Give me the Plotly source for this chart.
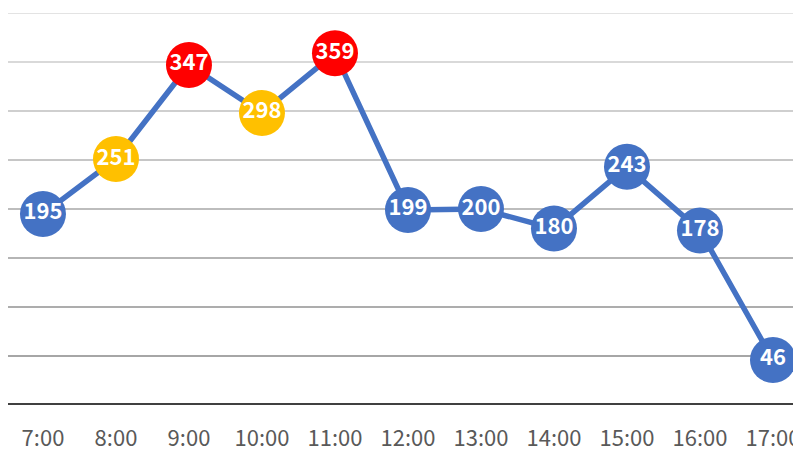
import plotly.graph_objects as go

times = ["7:00", "8:00", "9:00", "10:00", "11:00", "12:00", "13:00", "14:00", "15:00", "16:00", "17:00"]
values = [195, 251, 347, 298, 359, 199, 200, 180, 243, 178, 46]
grid_values = [50, 100, 150, 200, 250, 300, 350, 400]
grid_colors = ["#a6a6a6", "#adadad", "#b5b5b5", "#bdbdbd", "#c6c6c6", "#cfcfcf", "#d9d9d9", "#e3e3e3"]

def color_for(v):
    if v >= 300:
        return "#FF0000"
    if v >= 250:
        return "#FFC000"
    return "#4472C4"

marker_colors = [color_for(v) for v in values]
xi = list(range(len(times)))

fig = go.Figure()
fig.add_trace(go.Scatter(
    x=xi, y=values, mode="lines+markers+text",
    line=dict(color="#4472C4", width=5.5),
    marker=dict(size=46, color=marker_colors, line=dict(width=0)),
    text=[str(v) for v in values], textposition="middle center",
    textfont=dict(family="Noto Sans CJK JP", size=22, color="white", weight="bold"),
    cliponaxis=False, hoverinfo="skip",
))

shapes = []
for gv, gc in zip(grid_values, grid_colors):
    shapes.append(dict(type="line", xref="paper", yref="y", x0=0, x1=1, y0=gv, y1=gv,
                       line=dict(color=gc, width=2), layer="below"))
shapes.append(dict(type="line", xref="paper", yref="y", x0=0, x1=1, y0=0, y1=0,
                   line=dict(color="#404040", width=4), layer="above"))

fig.update_layout(
    width=793, height=441,
    margin=dict(l=0, r=0, t=5, b=44, autoexpand=False),
    paper_bgcolor="white", plot_bgcolor="white",
    showlegend=False, shapes=shapes,
    xaxis=dict(range=[-0.479, 10.384], tickmode="array", tickvals=xi, ticktext=times,
               showgrid=False, zeroline=False, showline=False, ticks="",
               automargin=False, ticklabelstandoff=18, ticklabeloverflow="allow",
               tickfont=dict(family="Noto Sans CJK JP", size=22, color="#595959")),
    yaxis=dict(range=[0, 400], showgrid=False, zeroline=False, showticklabels=False,
               showline=False, ticks="", automargin=False),
)

fig.write_html("out.html")
